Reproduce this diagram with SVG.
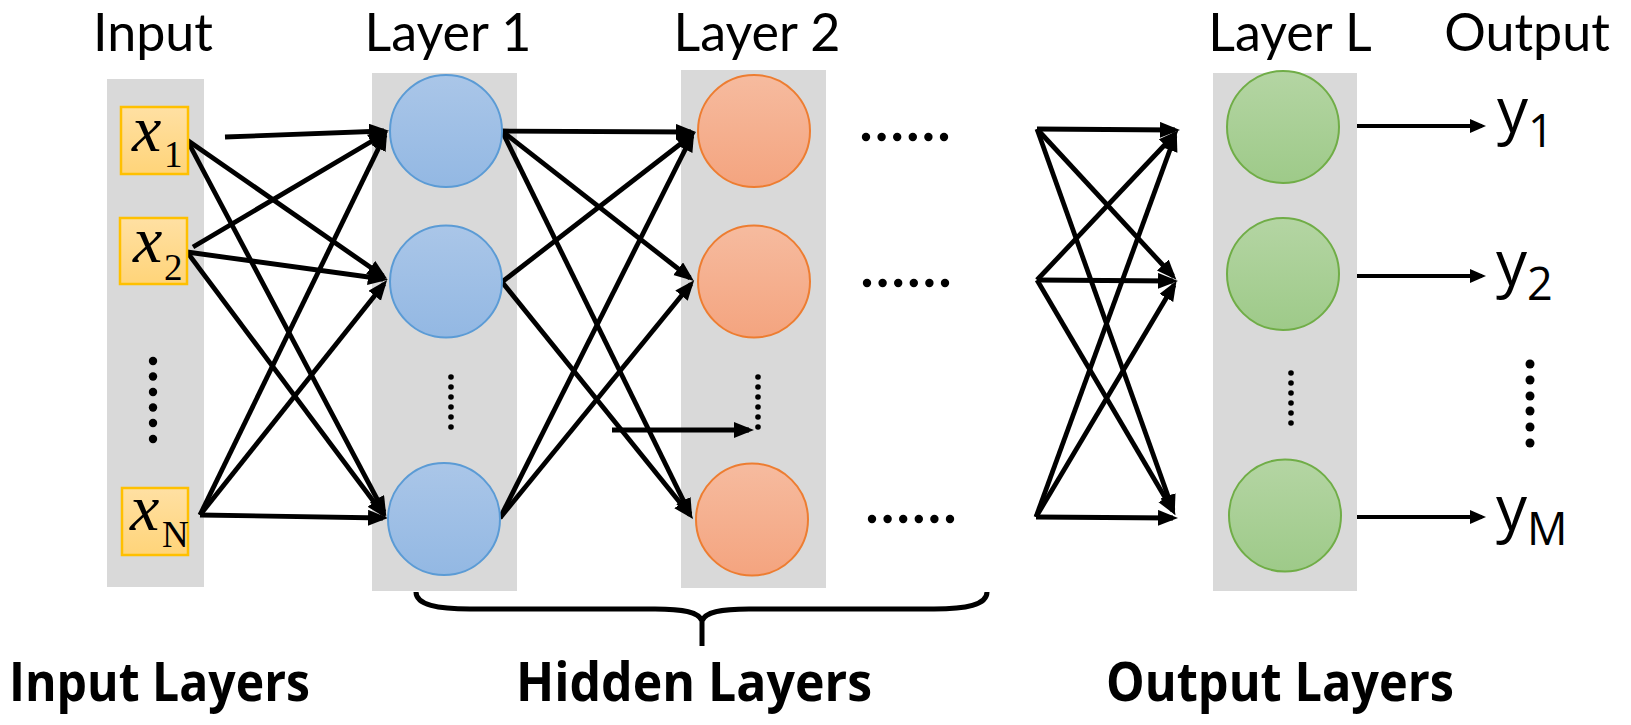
<svg xmlns="http://www.w3.org/2000/svg" width="1631" height="725" viewBox="0 0 1631 725">
<style>
.panel{fill:#D9D9D9}
.box{fill:url(#gBox);stroke:#FFC000;stroke-width:2.5}
.nb{fill:url(#gBlue);stroke:#5B9BD5;stroke-width:2}
.no{fill:url(#gOrange);stroke:#ED7D31;stroke-width:2}
.ng{fill:url(#gGreen);stroke:#70AD47;stroke-width:2}
.lbl{font-family:Lato,"Open Sans",sans-serif;font-size:52px;fill:#000}
.big{font-family:"Open Sans","Noto Sans",sans-serif;font-size:53px;font-weight:bold;fill:#000}
.xv{font-family:"Liberation Serif","Times New Roman",serif;font-style:italic;font-size:66px;fill:#000}
.xs{font-family:"Liberation Serif","Times New Roman",serif;font-size:37px;fill:#000}
.yv{font-family:"Open Sans","Noto Sans",sans-serif;font-size:62px;fill:#000}
.ys{font-family:"Open Sans","Noto Sans",sans-serif;font-size:45px;fill:#000}
.cn line{stroke:#000;stroke-width:4.8;marker-end:url(#ah)}
.cn line.out{stroke-width:4;marker-end:url(#ah2)}
.dot{fill:#000}
</style>
<defs>
<linearGradient id="gBox" x1="0" y1="0" x2="0" y2="1"><stop offset="0" stop-color="#FFE0A3"/><stop offset="1" stop-color="#FFD479"/></linearGradient>
<linearGradient id="gBlue" x1="0" y1="0" x2="0" y2="1"><stop offset="0" stop-color="#AAC6E8"/><stop offset="1" stop-color="#93B8E3"/></linearGradient>
<linearGradient id="gOrange" x1="0" y1="0" x2="0" y2="1"><stop offset="0" stop-color="#F6BB9F"/><stop offset="1" stop-color="#F4A47F"/></linearGradient>
<linearGradient id="gGreen" x1="0" y1="0" x2="0" y2="1"><stop offset="0" stop-color="#B4D5A3"/><stop offset="1" stop-color="#9ECA89"/></linearGradient>
<marker id="ah" markerUnits="userSpaceOnUse" markerWidth="22" markerHeight="18" viewBox="0 0 22 18" refX="15" refY="8" orient="auto"><path d="M0,0 L20,8 L0,16 Z" fill="#000"/></marker>
<marker id="ah2" markerUnits="userSpaceOnUse" markerWidth="18" markerHeight="16" viewBox="0 0 18 16" refX="12" refY="7" orient="auto"><path d="M0,0 L16,7 L0,14 Z" fill="#000"/></marker>
</defs>

<g id="panels">
<rect class="panel" x="107" y="79" width="97" height="508"/>
<rect class="panel" x="372" y="73" width="145" height="518"/>
<rect class="panel" x="681" y="70" width="145" height="518"/>
<rect class="panel" x="1213" y="73" width="144" height="518"/>
</g>

<g id="headers">
<text class="lbl" x="153" y="51" text-anchor="middle">Input</text>
<text class="lbl" x="448" y="51" text-anchor="middle">Layer 1</text>
<text class="lbl" x="757" y="51" text-anchor="middle">Layer 2</text>
<text class="lbl" x="1290" y="51" text-anchor="middle">Layer L</text>
<text class="lbl" x="1527" y="51" text-anchor="middle">Output</text>
</g>

<g id="connectors" class="cn">
<line x1="225" y1="137" x2="384" y2="131"/>
<line x1="187" y1="140" x2="383" y2="276"/>
<line x1="187" y1="140" x2="384" y2="512"/>
<line x1="193" y1="247" x2="384" y2="134"/>
<line x1="187" y1="252" x2="383" y2="279"/>
<line x1="187" y1="252" x2="383" y2="514"/>
<line x1="200" y1="515" x2="385" y2="135"/>
<line x1="200" y1="515" x2="384" y2="284"/>
<line x1="200" y1="515" x2="383" y2="518"/>

<line x1="502" y1="131" x2="691" y2="132"/>
<line x1="502" y1="131" x2="690" y2="278"/>
<line x1="502" y1="131" x2="690" y2="514"/>
<line x1="502" y1="282" x2="692" y2="135"/>
<line x1="502" y1="282" x2="690" y2="515"/>
<line x1="500" y1="518" x2="692" y2="136"/>
<line x1="500" y1="518" x2="691" y2="284"/>
<line x1="612" y1="430" x2="749" y2="430"/>

<line x1="1037" y1="129" x2="1175" y2="130"/>
<line x1="1037" y1="129" x2="1173" y2="276"/>
<line x1="1037" y1="129" x2="1173" y2="510"/>
<line x1="1037" y1="280" x2="1175" y2="134"/>
<line x1="1037" y1="280" x2="1173" y2="281"/>
<line x1="1037" y1="280" x2="1173" y2="511"/>
<line x1="1036" y1="517" x2="1175" y2="136"/>
<line x1="1036" y1="517" x2="1174" y2="285"/>
<line x1="1036" y1="517" x2="1173" y2="518"/>

<line class="out" x1="1357" y1="126" x2="1482" y2="126"/>
<line class="out" x1="1357" y1="276" x2="1482" y2="276"/>
<line class="out" x1="1357" y1="517" x2="1482" y2="517"/>
</g>

<g id="input-x1">
<rect class="box" x="121" y="107" width="67" height="67"/>
<text class="xv" x="132" y="151">x</text><text class="xs" x="164" y="167">1</text>
</g>
<g id="input-x2">
<rect class="box" x="120" y="218" width="67" height="66"/>
<text class="xv" x="133" y="262">x</text><text class="xs" x="164" y="280">2</text>
</g>
<g id="input-xN">
<rect class="box" x="122" y="488" width="66" height="67"/>
<text class="xv" x="130" y="530">x</text><text class="xs" x="162" y="547">N</text>
</g>

<g id="layer1-n1"><circle class="nb" cx="446" cy="131" r="56"/></g>
<g id="layer1-n2"><circle class="nb" cx="446" cy="281.5" r="56"/></g>
<g id="layer1-n3"><circle class="nb" cx="444" cy="519" r="56"/></g>
<g id="layer2-n1"><circle class="no" cx="754" cy="131" r="56"/></g>
<g id="layer2-n2"><circle class="no" cx="754" cy="281.5" r="56"/></g>
<g id="layer2-n3"><circle class="no" cx="752" cy="519.5" r="56"/></g>
<g id="layerL-n1"><circle class="ng" cx="1283" cy="127" r="56"/></g>
<g id="layerL-n2"><circle class="ng" cx="1283" cy="274" r="56"/></g>
<g id="layerL-n3"><circle class="ng" cx="1285" cy="515.5" r="56"/></g>

<g id="dots">
<g class="dot">
<circle cx="153" cy="361" r="4.2"/><circle cx="153" cy="376.5" r="4.2"/><circle cx="153" cy="392" r="4.2"/><circle cx="153" cy="407.5" r="4.2"/><circle cx="153" cy="423" r="4.2"/><circle cx="153" cy="439" r="4.2"/>
<circle cx="451" cy="377" r="2.8"/><circle cx="451" cy="387" r="2.8"/><circle cx="451" cy="397" r="2.8"/><circle cx="451" cy="407" r="2.8"/><circle cx="451" cy="417" r="2.8"/><circle cx="451" cy="427" r="2.8"/>
<circle cx="758" cy="377" r="2.8"/><circle cx="758" cy="387" r="2.8"/><circle cx="758" cy="397" r="2.8"/><circle cx="758" cy="407" r="2.8"/><circle cx="758" cy="417" r="2.8"/><circle cx="758" cy="427" r="2.8"/>
<circle cx="1291" cy="373" r="2.8"/><circle cx="1291" cy="383" r="2.8"/><circle cx="1291" cy="393" r="2.8"/><circle cx="1291" cy="403" r="2.8"/><circle cx="1291" cy="413" r="2.8"/><circle cx="1291" cy="423" r="2.8"/>
<circle cx="1530" cy="364" r="4.5"/><circle cx="1530" cy="380" r="4.5"/><circle cx="1530" cy="396" r="4.5"/><circle cx="1530" cy="411" r="4.5"/><circle cx="1530" cy="427" r="4.5"/><circle cx="1530" cy="443" r="4.5"/>
<circle cx="866" cy="137" r="4.2"/><circle cx="881.6" cy="137" r="4.2"/><circle cx="897.2" cy="137" r="4.2"/><circle cx="912.8" cy="137" r="4.2"/><circle cx="928.4" cy="137" r="4.2"/><circle cx="944" cy="137" r="4.2"/>
<circle cx="867" cy="283" r="4.2"/><circle cx="882.6" cy="283" r="4.2"/><circle cx="898.2" cy="283" r="4.2"/><circle cx="913.8" cy="283" r="4.2"/><circle cx="929.4" cy="283" r="4.2"/><circle cx="945" cy="283" r="4.2"/>
<circle cx="872" cy="519" r="4.2"/><circle cx="887.6" cy="519" r="4.2"/><circle cx="903.2" cy="519" r="4.2"/><circle cx="918.8" cy="519" r="4.2"/><circle cx="934.4" cy="519" r="4.2"/><circle cx="950" cy="519" r="4.2"/>
</g>
</g>

<g id="outputs">
<text class="yv" x="1497" y="132">y<tspan class="ys" dy="15">1</tspan></text>
<text class="yv" x="1496" y="285">y<tspan class="ys" dy="15">2</tspan></text>
<text class="yv" x="1496" y="530">y<tspan class="ys" dy="15">M</tspan></text>
</g>

<g id="brace">
<path d="M416,592 C416,605 438,609 470,609 L655,609 C684,609 699,612 702,621 C705,612 720,609 749,609 L934,609 C966,609 987,605 987,592 M702,619 L702,646" fill="none" stroke="#000" stroke-width="5"/>
</g>

<g id="footer">
<text class="big" x="9" y="701" textLength="301" lengthAdjust="spacingAndGlyphs">Input Layers</text>
<text class="big" x="516" y="701" textLength="356" lengthAdjust="spacingAndGlyphs">Hidden Layers</text>
<text class="big" x="1106" y="701" textLength="348" lengthAdjust="spacingAndGlyphs">Output Layers</text>
</g>
</svg>
